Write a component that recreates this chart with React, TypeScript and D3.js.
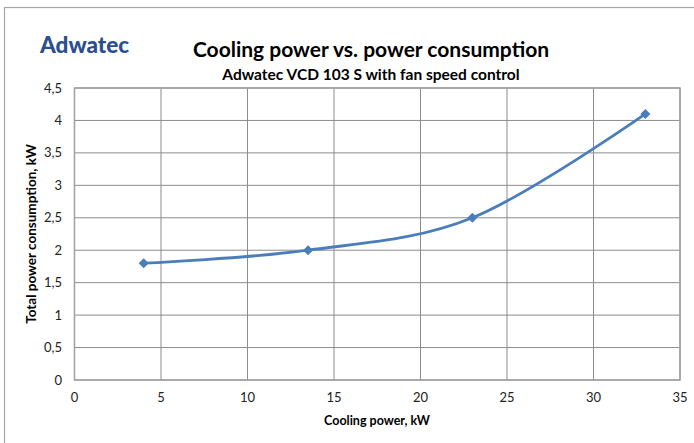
import { useMemo } from 'react';
import * as d3 from 'd3';

const coolingPower = [4, 13.5, 23, 33];
const powerConsumption = [1.8, 2.0, 2.5, 4.1];
const xTicks = [0, 5, 10, 15, 20, 25, 30, 35];
const yTicks = [0, 0.5, 1, 1.5, 2, 2.5, 3, 3.5, 4, 4.5];

const LINE_COLOR = '#4A7EBB';
const GRID_COLOR = '#8C8C8C';
const FONT = 'Lato, "Open Sans", sans-serif';

const W = 694;
const H = 443;
const M = { left: 74.5, right: 680, top: 88, bottom: 380 };

export default function App() {
  const x = d3.scaleLinear().domain([0, 35]).range([M.left, M.right]);
  const y = d3.scaleLinear().domain([0, 4.5]).range([M.bottom, M.top]);

  const points = coolingPower.map((c, i) => [c, powerConsumption[i]] as [number, number]);

  const path = useMemo(
    () =>
      d3.line<[number, number]>()
        .x((d) => x(d[0]))
        .y((d) => y(d[1]))
        .curve(d3.curveCardinal.tension(0))(points) ?? '',
    []
  );

  const fmt = (v: number) => String(v).replace('.', ',');

  return (
    <div style={{ position: 'fixed', left: 0, top: 0 }}>
      <svg width={W} height={H} style={{ display: 'block', background: '#fff' }}>
        {/* outer chart frame */}
        <rect x={4.5} y={7.5} width={W + 10} height={H + 10} fill="#fff" stroke="#A6A6A6" strokeWidth={1.2} />

        {/* logo */}
        <text x={40} y={53} fontFamily={FONT} fontWeight={900} fontSize={22.5} fill="#2A4E8E">
          Adwatec
        </text>

        {/* titles */}
        <text x={371} y={57} textAnchor="middle" fontFamily={FONT} fontWeight={700} fontSize={21} fill="#000">
          Cooling power vs. power consumption
        </text>
        <text x={371} y={80} textAnchor="middle" fontFamily={FONT} fontWeight={700} fontSize={15.5} fill="#000">
          Adwatec VCD 103 S with fan speed control
        </text>

        {/* gridlines */}
        {yTicks.map((t) => (
          <line key={'gy' + t} x1={M.left} x2={M.right} y1={y(t)} y2={y(t)} stroke={GRID_COLOR} strokeWidth={1} />
        ))}
        {xTicks.map((t) => (
          <line key={'gx' + t} x1={x(t)} x2={x(t)} y1={M.top} y2={M.bottom} stroke={GRID_COLOR} strokeWidth={1} />
        ))}
        <rect x={M.left} y={M.top} width={M.right - M.left} height={M.bottom - M.top} fill="none" stroke="#A0A0A0" strokeWidth={1.5} />

        {/* tick labels */}
        {yTicks.map((t) => (
          <text key={'ly' + t} x={62} y={y(t) + 4.5} textAnchor="end" fontFamily={FONT} fontSize={13} fill="#222">
            {fmt(t)}
          </text>
        ))}
        {xTicks.map((t) => (
          <text key={'lx' + t} x={x(t)} y={402} textAnchor="middle" fontFamily={FONT} fontSize={13} fill="#222">
            {fmt(t)}
          </text>
        ))}

        {/* axis titles */}
        <text x={377} y={425} textAnchor="middle" fontFamily={FONT} fontWeight={700} fontSize={12.5} fill="#000">
          Cooling power, kW
        </text>
        <text
          transform={`translate(36, ${(M.top + M.bottom) / 2}) rotate(-90)`}
          textAnchor="middle"
          fontFamily={FONT}
          fontWeight={700}
          fontSize={13.5}
          fill="#000"
        >
          Total power consumption, kW
        </text>

        {/* series */}
        <path d={path} fill="none" stroke={LINE_COLOR} strokeWidth={2.8} strokeLinejoin="round" />
        {points.map((p, i) => {
          const cx = x(p[0]);
          const cy = y(p[1]);
          const r = 5;
          return (
            <path
              key={'m' + i}
              d={`M${cx},${cy - r}L${cx + r},${cy}L${cx},${cy + r}L${cx - r},${cy}Z`}
              fill={LINE_COLOR}
            />
          );
        })}
      </svg>
    </div>
  );
}
